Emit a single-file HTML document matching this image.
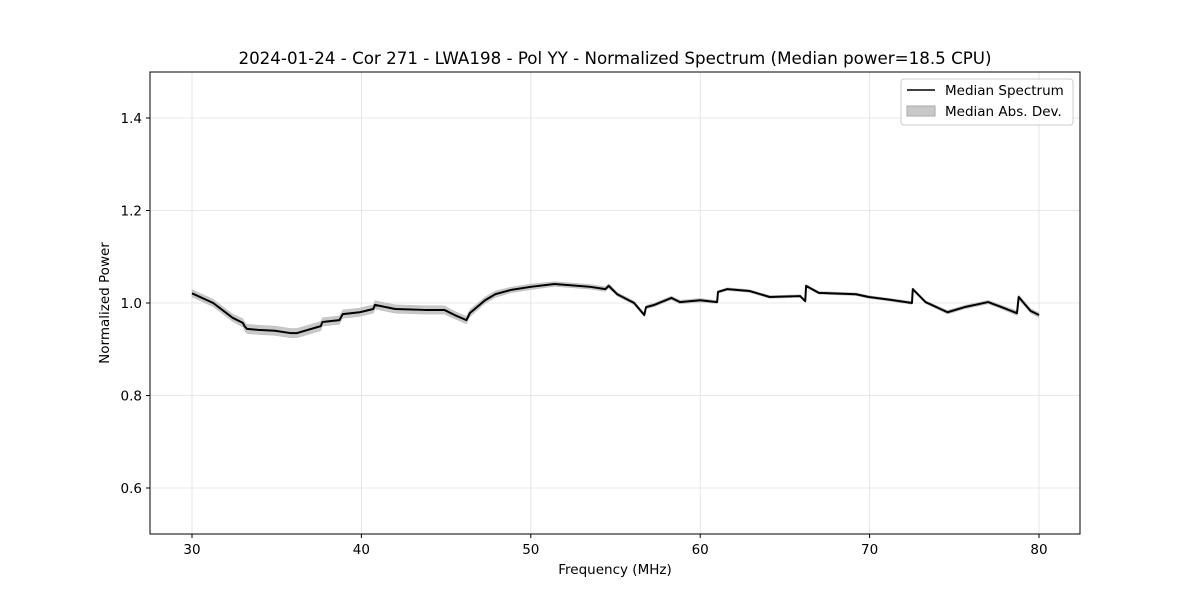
<!DOCTYPE html>
<html><head><meta charset="utf-8"><style>
body{margin:0;background:#fff;}
svg text{font-family:"DejaVu Sans","Liberation Sans",sans-serif;fill:#000;}
</style></head><body>
<svg id="chart" width="1200" height="600" xmlns="http://www.w3.org/2000/svg">
<rect width="1200" height="600" fill="#fff"/>
<g id="grid"></g>
<g id="band"></g>
<g id="line"></g>
<rect x="150" y="72" width="930" height="462" fill="none" stroke="#000" stroke-width="1"/>
<g id="xticks"></g>
<g id="yticks"></g>
<text x="615" y="64" text-anchor="middle" font-size="16.7">2024-01-24 - Cor 271 - LWA198 - Pol YY - Normalized Spectrum (Median power=18.5 CPU)</text>
<text x="615" y="574" text-anchor="middle" font-size="13.5">Frequency (MHz)</text>
<text x="0" y="0" transform="translate(109,303) rotate(-90)" text-anchor="middle" font-size="13.5">Normalized Power</text>
<g>
<rect x="901" y="79" width="172" height="46" rx="3" fill="#fff" fill-opacity="0.8" stroke="#ccc"/>
<line x1="907" y1="90" x2="935" y2="90" stroke="#000" stroke-width="1.5"/>
<text x="945" y="95" font-size="13.5">Median Spectrum</text>
<rect x="907" y="106" width="28" height="10" fill="#c8c8c8" stroke="#aaa"/>
<text x="945" y="116" font-size="13.5">Median Abs. Dev.</text>
</g>
</svg>
<script>
const freqs=[30,31.25,32.4,33.0,33.1,33.25,33.9,34.9,35.8,36.2,37.6,37.7,38.7,38.9,39.9,40.7,40.8,42,43.75,44.9,45.5,46.2,46.4,47.3,47.9,48.8,50,51.4,53.5,54.4,54.6,55.1,56.1,56.7,56.8,57.3,58.3,58.8,60,61,61.05,61.6,62.9,64.1,65.9,66.2,66.25,67,69.2,69.95,71.4,72.5,72.55,73.3,74.6,75.6,77,77.8,78.7,78.8,79.5,80];
const power=[1.021,1.0,0.968,0.957,0.95,0.944,0.942,0.94,0.935,0.935,0.95,0.959,0.963,0.976,0.98,0.987,0.996,0.987,0.985,0.985,0.974,0.963,0.978,1.006,1.019,1.028,1.035,1.041,1.035,1.03,1.037,1.019,1.0,0.974,0.991,0.996,1.011,1.002,1.006,1.002,1.024,1.03,1.026,1.013,1.015,1.004,1.037,1.022,1.019,1.013,1.006,1.0,1.03,1.002,0.98,0.991,1.002,0.991,0.978,1.013,0.983,0.974];
const mad=[0.008,0.008,0.008,0.009,0.009,0.01,0.01,0.01,0.01,0.01,0.01,0.009,0.009,0.009,0.009,0.009,0.009,0.009,0.009,0.009,0.008,0.008,0.008,0.007,0.007,0.006,0.006,0.005,0.005,0.005,0.005,0.004,0.004,0.004,0.004,0.004,0.004,0.004,0.004,0.003,0.003,0.003,0.003,0.003,0.003,0.003,0.003,0.003,0.003,0.003,0.003,0.003,0.003,0.003,0.004,0.004,0.004,0.004,0.005,0.005,0.005,0.005];
const xTicks=[30,40,50,60,70,80];
const yTicks=[0.6,0.8,1.0,1.2,1.4];
const NS="http://www.w3.org/2000/svg";
const X=f=>192+(f-30)*16.94;
const Y=v=>303-(v-1.0)*462.5;
function mk(tag,attrs,parent){const e=document.createElementNS(NS,tag);for(const k in attrs)e.setAttribute(k,attrs[k]);document.getElementById(parent).appendChild(e);return e;}
xTicks.forEach(t=>{
  const g=mk('line',{x1:X(t),x2:X(t),y1:72,y2:534,stroke:'#e0e0e0','stroke-width':0.8},'grid');
  
  
  const tk=mk('line',{x1:X(t),x2:X(t),y1:534,y2:538,stroke:'#000'},'xticks');
  
  
  const l=mk('text',{x:X(t),y:554,'text-anchor':'middle','font-size':13.5},'xticks');
  l.textContent=t;
  
  
});
yTicks.forEach(t=>{
  const g=mk('line',{x1:150,x2:1080,y1:Y(t),y2:Y(t),stroke:'#e0e0e0','stroke-width':0.8},'grid');
  
  
  const tk=mk('line',{x1:146,x2:150,y1:Y(t),y2:Y(t),stroke:'#000'},'yticks');
  
  
  const l=mk('text',{x:142,y:Y(t)+5,'text-anchor':'end','font-size':13.5},'yticks');
  l.textContent=t.toFixed(1);
  
  
});
let up=freqs.map((f,i)=>X(f)+','+Y(power[i]+mad[i]));
let dn=freqs.map((f,i)=>X(f)+','+Y(power[i]-mad[i])).reverse();
const band=mk('polygon',{points:up.concat(dn).join(' '),fill:'#c8c8c8',stroke:'#bbb','stroke-width':0.5},'band');


const ln=mk('polyline',{points:freqs.map((f,i)=>X(f)+','+Y(power[i])).join(' '),fill:'none',stroke:'#000','stroke-width':2,'stroke-linejoin':'round'},'line');


</script>
</body></html>
